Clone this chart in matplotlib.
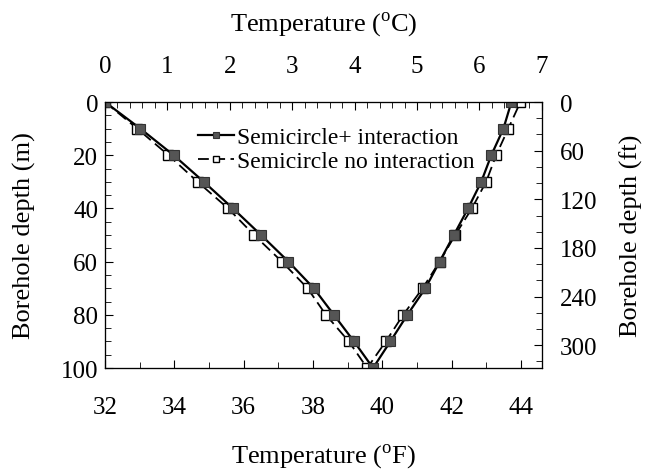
import matplotlib.pyplot as plt
import numpy as np
from matplotlib.ticker import MultipleLocator

plt.rcParams['font.family'] = ['Liberation Serif', 'DejaVu Serif']
plt.rcParams['mathtext.fontset'] = 'custom'
plt.rcParams['mathtext.rm'] = 'Liberation Serif'

# borehole depth (m), down the left branch then back up the right branch
depth = [0, 10, 20, 30, 40, 50, 60, 70, 80, 90, 100,
         90, 80, 70, 60, 50, 40, 30, 20, 10, 0]
# temperature (F)
temp_interaction = [32.0, 33.02, 33.98, 34.85, 35.69, 36.5, 37.29, 38.02, 38.6, 39.18, 39.73,
                    40.23, 40.72, 41.24, 41.65, 42.06, 42.47, 42.85, 43.14, 43.49, 43.72]
temp_no_interaction = [32.0, 32.93, 33.83, 34.67, 35.55, 36.3, 37.1, 37.84, 38.37, 39.03, 39.56,
                       40.1, 40.6, 41.16, 41.65, 42.1, 42.58, 42.99, 43.28, 43.63, 43.98]

TICK_FS = 18
LABEL_FS = 19

fig = plt.figure(figsize=(6.49, 4.77), dpi=100)
ax = fig.add_axes([0.1618, 0.2264, 0.6732, 0.5576])

ax.plot(temp_no_interaction, depth, color='black', linestyle=(0, (6, 3)), linewidth=1.3,
        marker='s', markersize=7, markerfacecolor='white', markeredgecolor='black',
        markeredgewidth=1.0, label='Semicircle no interaction', zorder=2)
ax.plot(temp_interaction, depth, color='black', linestyle='-', linewidth=1.6,
        marker='s', markersize=7, markerfacecolor='#555555', markeredgecolor='#333333',
        markeredgewidth=0.8, label='Semicircle+ interaction', zorder=3)

ax.set_xlim(32, 32 + 7 * 1.8)
ax.set_ylim(100, 0)
ax.xaxis.set_major_locator(MultipleLocator(2))
ax.xaxis.set_minor_locator(MultipleLocator(1))
ax.yaxis.set_major_locator(MultipleLocator(20))
ax.yaxis.set_minor_locator(MultipleLocator(5))
ax.tick_params(which='both', direction='in', labelsize=TICK_FS)
ax.tick_params(which='major', length=6)
ax.tick_params(which='minor', length=4)
ax.tick_params(axis='x', pad=20)
ax.tick_params(axis='y', pad=5)
ax.set_xlabel(r'Temperature ($^{\rm o}$F)', fontsize=LABEL_FS, labelpad=17)
ax.set_ylabel('Borehole depth (m)', fontsize=LABEL_FS, labelpad=18)

top = ax.twiny()
top.set_xlim(0, 7)
top.xaxis.set_major_locator(MultipleLocator(1))
top.xaxis.set_minor_locator(MultipleLocator(0.2))
top.tick_params(which='both', direction='in', labelsize=TICK_FS, pad=18)
top.tick_params(which='major', length=6)
top.tick_params(which='minor', length=4)
top.set_xlabel(r'Temperature ($^{\rm o}$C)', fontsize=LABEL_FS, labelpad=18)

right = ax.twinx()
right.set_ylim(100 / 0.3048, 0)
right.yaxis.set_major_locator(MultipleLocator(60))
right.yaxis.set_minor_locator(MultipleLocator(20))
right.tick_params(which='both', direction='in', labelsize=TICK_FS, pad=13)
right.tick_params(which='major', length=6)
right.tick_params(which='minor', length=4)
right.set_ylabel('Borehole depth (ft)', fontsize=LABEL_FS, labelpad=16)

handles, labels = ax.get_legend_handles_labels()
ax.legend(handles[::-1], labels[::-1], loc='upper center', bbox_to_anchor=(0.53, 0.97),
          frameon=False, fontsize=17, handlelength=1.5, handletextpad=0.15,
          labelspacing=0.1, markerscale=0.6, borderpad=0.2)

fig.savefig('out.png', dpi=100)
